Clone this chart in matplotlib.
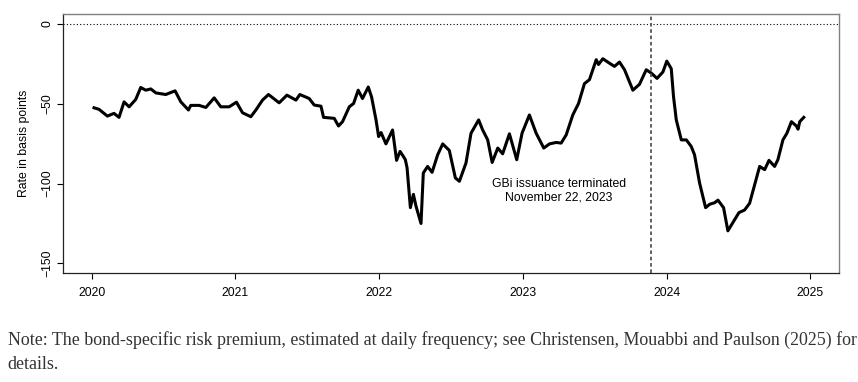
import matplotlib
matplotlib.use("Agg")
import matplotlib.pyplot as plt

# bond-specific risk premium (decimal year, basis points)
years = [
    2020.016, 2020.051, 2020.109, 2020.155, 2020.190, 2020.225, 2020.260, 2020.306,
    2020.341, 2020.376, 2020.411, 2020.446, 2020.515, 2020.580, 2020.620, 2020.673,
    2020.689, 2020.747, 2020.794, 2020.852, 2020.898, 2020.956, 2021.007, 2021.049,
    2021.107, 2021.142, 2021.188, 2021.230, 2021.304, 2021.358, 2021.421, 2021.448,
    2021.513, 2021.548, 2021.595, 2021.613, 2021.687, 2021.717, 2021.745, 2021.792,
    2021.822, 2021.854, 2021.884, 2021.924, 2021.947, 2021.978, 2021.996, 2022.013,
    2022.047, 2022.093, 2022.121, 2022.145, 2022.168, 2022.182, 2022.194, 2022.217,
    2022.238, 2022.256, 2022.291, 2022.307, 2022.337, 2022.368, 2022.407, 2022.442,
    2022.488, 2022.530, 2022.558, 2022.604, 2022.639, 2022.692, 2022.720, 2022.755,
    2022.786, 2022.825, 2022.859, 2022.906, 2022.957, 2022.994, 2023.045, 2023.092,
    2023.145, 2023.185, 2023.231, 2023.266, 2023.301, 2023.347, 2023.387, 2023.428,
    2023.463, 2023.510, 2023.526, 2023.556, 2023.602, 2023.637, 2023.672, 2023.707,
    2023.742, 2023.765, 2023.811, 2023.858, 2023.893, 2023.933, 2023.974, 2024.001,
    2024.032, 2024.048, 2024.067, 2024.102, 2024.137, 2024.171, 2024.194, 2024.229,
    2024.271, 2024.299, 2024.334, 2024.357, 2024.396, 2024.426, 2024.461, 2024.503,
    2024.542, 2024.577, 2024.619, 2024.647, 2024.682, 2024.712, 2024.751, 2024.774,
    2024.809, 2024.837, 2024.868, 2024.903, 2024.914, 2024.926, 2024.954,
]
premium = [
    -52.6, -53.6, -57.8, -56.1, -58.6, -48.9, -52.0, -47.4,
    -39.9, -41.6, -40.8, -43.3, -44.3, -42.0, -48.9, -54.0,
    -51.1, -51.1, -52.4, -46.4, -52.0, -52.0, -49.1, -55.7,
    -58.2, -54.0, -47.8, -44.3, -49.5, -44.7, -47.8, -44.3,
    -46.8, -50.9, -51.6, -58.6, -59.2, -64.0, -61.3, -52.0,
    -49.9, -41.6, -46.8, -39.6, -45.8, -60.2, -70.6, -68.1,
    -75.2, -66.5, -85.5, -79.9, -83.0, -85.1, -90.2, -115.1,
    -106.8, -114.1, -125.0, -93.4, -89.3, -93.0, -82.0, -75.2,
    -79.3, -96.5, -98.6, -87.1, -68.5, -60.2, -66.5, -72.7,
    -86.8, -77.8, -81.4, -68.9, -85.1, -68.5, -57.1, -68.5,
    -77.8, -75.2, -74.3, -74.7, -69.6, -57.1, -49.9, -37.5,
    -35.0, -22.5, -25.5, -21.9, -24.7, -26.7, -24.0, -28.8,
    -36.5, -41.6, -37.9, -28.8, -30.9, -34.2, -30.2, -23.4,
    -28.1, -45.8, -60.2, -72.7, -72.7, -76.8, -82.0, -99.6,
    -115.1, -113.0, -112.0, -110.4, -115.1, -129.6, -124.4, -118.2,
    -116.6, -112.4, -98.6, -89.3, -91.3, -85.5, -89.3, -85.1,
    -72.7, -68.5, -61.3, -64.0, -66.0, -61.3, -58.6,
]

year_ticks = [2020, 2021, 2022, 2023, 2024, 2025]
bp_ticks = [0, -50, -100, -150]
termination = 2023.89  # November 22, 2023

plt.rcParams["font.family"] = ["Liberation Sans", "DejaVu Sans"]

fig = plt.figure(figsize=(8.58, 3.82), dpi=100)
ax = fig.add_axes([0.0734, 0.2853, 0.9046, 0.6777])

ax.plot(years, premium, color="black", linewidth=2.2, solid_joinstyle="round")
ax.axhline(0, color="black", linestyle=(0, (1, 2)), linewidth=0.8)
ax.axvline(termination, color="#555555", linestyle=(0, (2, 1.5)), linewidth=1.3)

ax.text(2023.25, -104.5, "GBi issuance terminated\nNovember 22, 2023",
        ha="center", va="center", fontsize=8.8, linespacing=1.15)

ax.set_xlim(2019.8, 2025.2)
ax.set_ylim(-156, 6)
ax.set_xticks(year_ticks)
ax.set_xticklabels([str(y) for y in year_ticks])
ax.set_yticks(bp_ticks)
ax.set_yticklabels([str(v).replace("-", "\u2212") for v in bp_ticks],
                   rotation=90, va="center")
ax.tick_params(axis="both", direction="out", length=4, width=0.8,
               labelsize=8.8, colors="black")
ax.tick_params(axis="x", pad=6)
ax.tick_params(axis="y", pad=3)

ax.set_ylabel("Rate in basis points", fontsize=8.8, labelpad=8)

for side in ["left", "bottom"]:
    ax.spines[side].set_color("#222222")
    ax.spines[side].set_linewidth(0.9)
for side in ["top", "right"]:
    ax.spines[side].set_color("#808080")
    ax.spines[side].set_linewidth(1.0)

fig.text(0.009, 0.11,
         "Note: The bond-specific risk premium, estimated at daily frequency; "
         "see Christensen, Mouabbi and Paulson (2025) for",
         fontsize=12.9, family="Liberation Serif", color="#333333", va="center")
fig.text(0.009, 0.047, "details.",
         fontsize=12.9, family="Liberation Serif", color="#333333", va="center")

fig.savefig("out.png", dpi=100)
